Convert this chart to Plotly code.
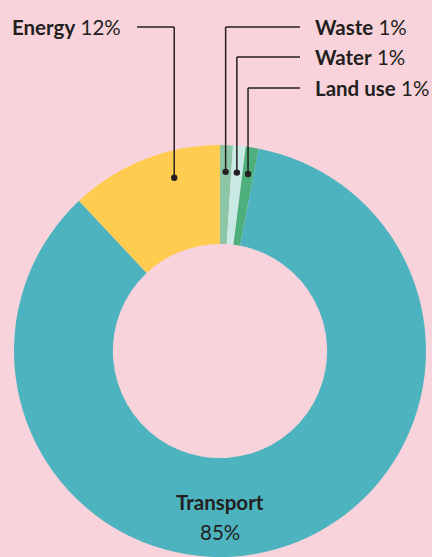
import math
import plotly.graph_objects as go

# ---- data ----
labels = ["Waste", "Water", "Land use", "Transport", "Energy"]
values = [1, 1, 1, 85, 12]
colors = ["#8DC6A6", "#C9E9E5", "#4DAF7B", "#4DB3BF", "#FFCC50"]

W, H = 432, 557
BG = "#F9D3DB"
INK = "#231F20"
FONT = "Lato"
FS = 20.5

# pie geometry (pixels from top-left)
CX, R = 220, 206
CY = H - R  # domain placed at bottom
fig = go.Figure()
fig.add_trace(go.Pie(
    labels=labels, values=values, sort=False, direction="clockwise", rotation=0,
    hole=0.52, marker=dict(colors=colors, line=dict(width=0)),
    textinfo="none", hoverinfo="label+percent", showlegend=False,
    domain=dict(x=[(CX - R) / W, (CX + R) / W], y=[0, 2 * R / H]),
))

def px(x):
    return x / W

def py(y):
    return 1 - y / H

total = sum(values)
# cumulative mid angles (degrees clockwise from 12 o'clock)
mids = []
acc = 0
for v in values:
    mids.append((acc + v / 2) / total * 360)
    acc += v

shapes = []
annotations = []

def leader(angle_deg, label_y, line_end_x, text, text_x, anchor):
    rr = 0.87 * R
    a = math.radians(angle_deg)
    dx = CX + rr * math.sin(a)
    dy = CY - rr * math.cos(a)
    shapes.append(dict(type="line", xref="paper", yref="paper",
                       x0=px(dx), y0=py(dy), x1=px(dx), y1=py(label_y),
                       line=dict(color=INK, width=1.5)))
    shapes.append(dict(type="line", xref="paper", yref="paper",
                       x0=px(dx), y0=py(label_y), x1=px(line_end_x), y1=py(label_y),
                       line=dict(color=INK, width=1.5)))
    shapes.append(dict(type="circle", xref="paper", yref="paper",
                       x0=px(dx - 3.2), x1=px(dx + 3.2), y0=py(dy - 3.2), y1=py(dy + 3.2),
                       fillcolor=INK, line=dict(width=0)))
    annotations.append(dict(text=text, xref="paper", yref="paper", x=px(text_x), y=py(label_y),
                            xanchor=anchor, yanchor="middle", showarrow=False,
                            font=dict(family=FONT, size=FS, color=INK)))

def lab(i):
    return f"<b>{labels[i]}</b> {values[i]}%"

# small slices on the right
leader(mids[0], 27, 300, lab(0), 313, "left")
leader(mids[1], 57, 300, lab(1), 313, "left")
leader(mids[2], 88, 300, lab(2), 313, "left")
# energy on the left (anchor placed near top of its slice)
leader(-14.8, 27, 137, lab(4), 10, "left")

# transport label inside
annotations.append(dict(text=f"<b>{labels[3]}</b>", xref="paper", yref="paper", x=px(CX), y=py(502),
                        xanchor="center", yanchor="middle", showarrow=False,
                        font=dict(family=FONT, size=FS, color=INK)))
annotations.append(dict(text=f"{values[3]}%", xref="paper", yref="paper", x=px(CX), y=py(532),
                        xanchor="center", yanchor="middle", showarrow=False,
                        font=dict(family=FONT, size=FS, color=INK)))

fig.update_layout(
    width=W, height=H, margin=dict(l=0, r=0, t=0, b=0),
    paper_bgcolor=BG, plot_bgcolor=BG,
    shapes=shapes, annotations=annotations,
)
fig.write_html(
    "out.html",
    config={"displayModeBar": False},
    post_script="document.body.style.margin='0';document.body.style.overflow='hidden';",
)
